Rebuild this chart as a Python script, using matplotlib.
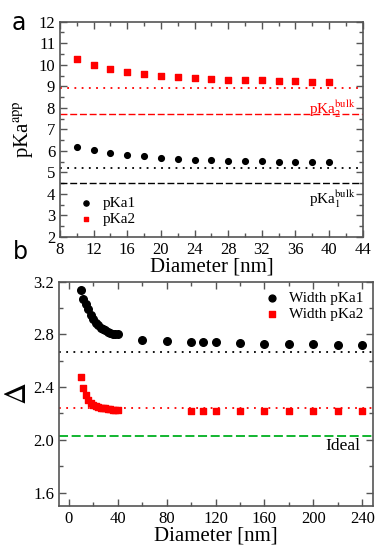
import numpy as np
import matplotlib
matplotlib.use("Agg")
import matplotlib.pyplot as plt
from matplotlib.ticker import MultipleLocator

plt.rcParams.update({
    "font.family": "Liberation Serif",
    "mathtext.fontset": "stix",
    "xtick.direction": "in",
    "ytick.direction": "in",
    "xtick.top": True,
    "ytick.right": True,
    "axes.edgecolor": "#555555",
    "axes.linewidth": 1.2,
})

# --- apparent pKa vs pore diameter
diam = [10, 12, 14, 16, 18, 20, 22, 24, 26, 28, 30, 32, 34, 36, 38, 40]
pka1 = [6.20, 6.04, 5.91, 5.81, 5.74, 5.67, 5.62, 5.59, 5.56, 5.54, 5.52, 5.52, 5.50, 5.49, 5.48, 5.48]
pka2 = [10.25, 10.00, 9.80, 9.67, 9.56, 9.48, 9.42, 9.37, 9.32, 9.29, 9.27, 9.27, 9.24, 9.23, 9.22, 9.22]
pka1_dot, pka1_bulk = 5.2, 4.5
pka2_dot, pka2_bulk = 8.9, 7.7

# --- titration curve widths
w1_diam = [10, 12, 14, 16, 18, 20, 22, 24, 26, 28, 30, 32, 34, 36, 38, 40,
           60, 80, 100, 110, 120, 140, 160, 180, 200, 220, 240]
w1 = [3.14, 3.07, 3.03, 2.99, 2.95, 2.92, 2.89, 2.87, 2.85, 2.84, 2.83, 2.82, 2.81, 2.80, 2.80, 2.80,
      2.76, 2.75, 2.74, 2.74, 2.74, 2.735, 2.73, 2.73, 2.73, 2.72, 2.72]
w2_diam = [10, 12, 14, 16, 18, 20, 22, 24, 26, 28, 30, 32, 34, 36, 38, 40,
           100, 110, 120, 140, 160, 180, 200, 220, 240]
w2 = [2.48, 2.39, 2.34, 2.30, 2.28, 2.265, 2.255, 2.25, 2.245, 2.24, 2.24, 2.235, 2.235, 2.23, 2.23, 2.23,
      2.215, 2.215, 2.215, 2.215, 2.215, 2.215, 2.215, 2.215, 2.215]
w1_ref, w2_ref, ideal = 2.67, 2.24, 2.03

red = "#ff0000"
green = "#00b020"

fig = plt.figure(figsize=(3.75, 5.45), dpi=100)
ax1 = fig.add_axes([60/375, 1-237/545, (362.7-60)/375, (237-21.7)/545])
ax2 = fig.add_axes([59/375, 1-505.7/545, (372.7-59)/375, (505.7-281.7)/545])

# panel a
ax1.scatter(diam, pka1, s=17, c="black", marker="o", label="pKa1", zorder=3)
ax1.scatter(diam, pka2, s=13, c=red, marker="s", label="pKa2", zorder=3)
ax1.axhline(pka2_dot, color=red, ls=(0, (1, 3)), lw=1.3)
ax1.axhline(pka2_bulk, color=red, ls=(0, (5, 2)), lw=1.0)
ax1.axhline(pka1_dot, color="black", ls=(0, (1, 3)), lw=1.3)
ax1.axhline(pka1_bulk, color="black", ls=(0, (5, 2)), lw=1.0)
ax1.text(43.2, 7.95, r"pKa$_2^{\mathrm{bulk}}$", color=red, fontsize=11, ha="right", va="center")
ax1.text(43.2, 3.75, r"pKa$_1^{\mathrm{bulk}}$", color="black", fontsize=11, ha="right", va="center")
ax1.set_xlim(8, 44)
ax1.set_ylim(2, 12)
ax1.xaxis.set_major_locator(MultipleLocator(4))
ax1.xaxis.set_minor_locator(MultipleLocator(2))
ax1.yaxis.set_major_locator(MultipleLocator(1))
ax1.yaxis.set_minor_locator(MultipleLocator(0.5))
ax1.set_xlabel("Diameter [nm]", fontsize=15, labelpad=0)
ax1.set_ylabel(r"pKa$^{\mathrm{app}}$", fontsize=15, labelpad=2)
ax1.legend(loc="lower left", fontsize=11, frameon=False, handletextpad=0.1,
           borderaxespad=0.3, labelspacing=0.2, markerscale=0.9)

# panel b
ax2.scatter(w1_diam, w1, s=30, c="black", marker="o", label="Width pKa1", zorder=3)
ax2.scatter(w2_diam, w2, s=24, c=red, marker="s", label="Width pKa2", zorder=3)
ax2.axhline(w1_ref, color="black", ls=(0, (1, 3)), lw=1.3)
ax2.axhline(w2_ref, color=red, ls=(0, (1, 3)), lw=1.3)
ax2.axhline(ideal, color=green, ls=(0, (5, 2)), lw=1.3)
ax2.text(238, 1.95, "Ideal", fontsize=12.5, ha="right", va="center")
ax2.set_xlim(-8, 248.5)
ax2.set_ylim(1.5, 3.2)
ax2.xaxis.set_major_locator(MultipleLocator(40))
ax2.xaxis.set_minor_locator(MultipleLocator(20))
ax2.yaxis.set_major_locator(MultipleLocator(0.4))
ax2.yaxis.set_minor_locator(MultipleLocator(0.2))
ax2.set_xlabel("Diameter [nm]", fontsize=15, labelpad=0)
ax2.set_ylabel(r"$\Delta$", fontsize=22, labelpad=0)
ax2.legend(loc="upper right", fontsize=11, frameon=False, handletextpad=0.1,
           borderaxespad=0.2, labelspacing=0.2, markerscale=0.9)

for ax in (ax1, ax2):
    ax.tick_params(which="both", labelsize=12, colors="#555555", labelcolor="black")
    ax.tick_params(which="major", length=5, width=1)
    ax.tick_params(which="minor", length=3, width=1)

fig.text(19/375, 1-23/545, "a", fontsize=17, family="DejaVu Sans", ha="center", va="center")
fig.text(20/375, 1-252/545, "b", fontsize=17, family="DejaVu Sans", ha="center", va="center")

fig.savefig("out.png", dpi=100)
